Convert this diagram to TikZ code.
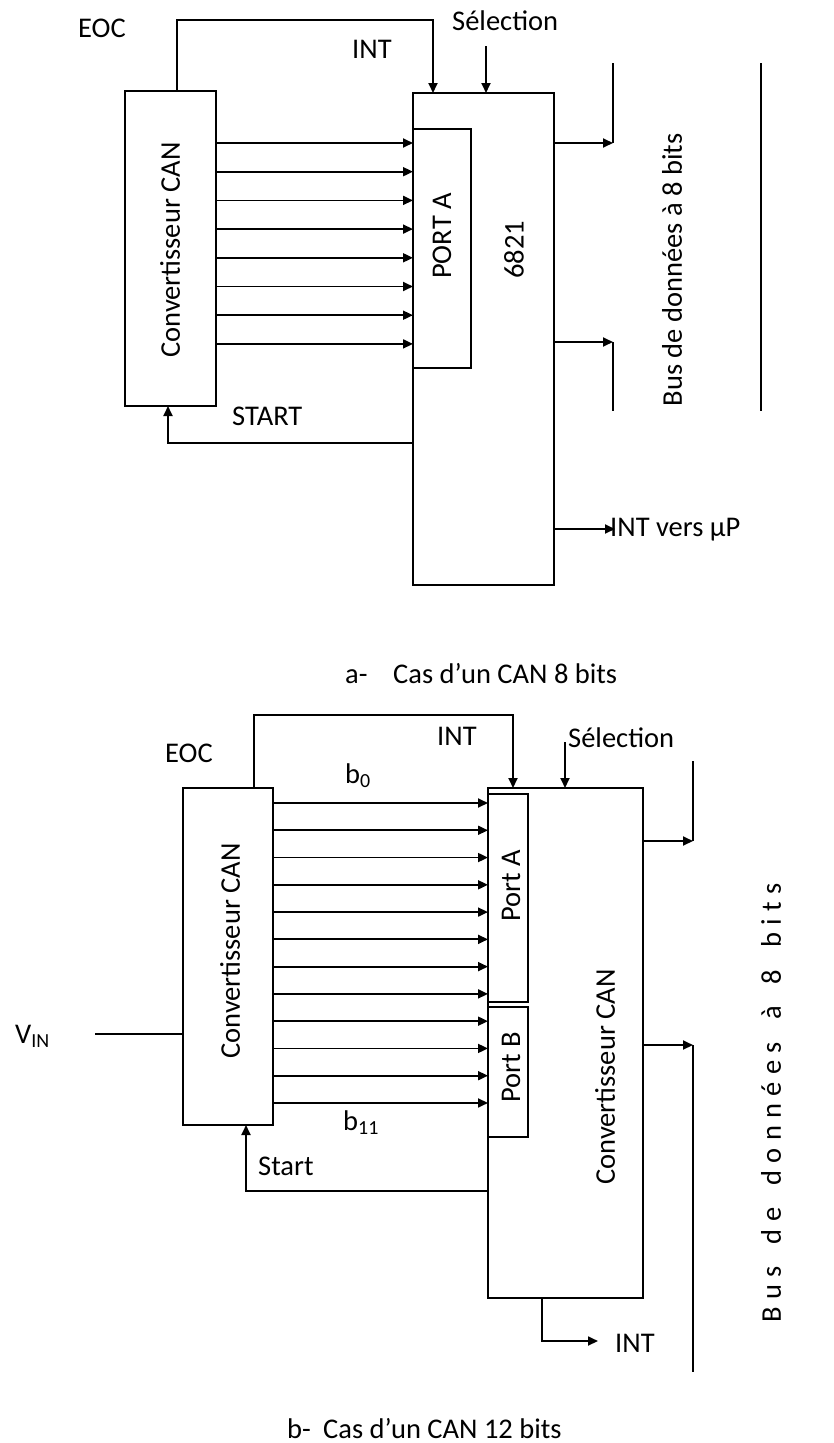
\documentclass[tikz,border=0pt]{standalone}
\usepackage{fontspec}
\setmainfont{Carlito}
\usetikzlibrary{arrows.meta,calc}
\begin{document}
\begin{tikzpicture}[x=1pt,y=-1pt,
  wire/.style={line width=1.8pt},
  arr/.style={wire,-{Triangle[length=10pt,width=9pt]}},
  box/.style={draw,line width=1.8pt,inner sep=0pt,outer sep=0pt},
  lbl/.style={inner sep=0pt,font=\fontsize{28.5}{34}\selectfont},
  vlbl/.style={lbl,rotate=90}]
\fill[white] (0,0) rectangle (833,1443);
\useasboundingbox (0,0) rectangle (833,1443);

% ---------------- part a ----------------
\node[box,minimum width=91pt,minimum height=315pt] (cana) at (170.5,248.5) {};
\node[box,minimum width=141pt,minimum height=492pt] (pia) at (483.5,339) {};
\node[box,minimum width=58pt,minimum height=239pt] (porta) at (442,248.5) {};

\node[vlbl] (tcana) at (170,250) {Convertisseur CAN};
\node[vlbl] (tporta) at (442,236) {PORT A};
\node[vlbl] (tpia) at (514,250) {6821};
\node[vlbl] (tbusa) at (672,270) {Bus de données à 8 bits};
\node[lbl,anchor=base west] (eoca) at (78,37) {EOC};
\node[lbl,anchor=base west] (inta) at (352,58) {INT};
\node[lbl,anchor=base west] (sela) at (452,30) {Sélection};
\node[lbl,anchor=base west] (starta) at (232,425) {START};
\node[lbl,anchor=base west] (intupa) at (610,536) {INT vers µP};
\node[lbl,anchor=base west] (capa1) at (345,683) {a-};
\node[lbl,anchor=base west] (capa2) at (393,683) {Cas d’un CAN 8 bits};

\coordinate (eocA) at (177,20);
\coordinate (intA) at (433,20);
\draw[arr] (cana.north -| eocA) -- (eocA) -- (intA) -- (intA |- pia.north);
\coordinate (selA) at (486,46);
\draw[arr] (selA) -- (selA |- pia.north);
\foreach \k in {0,...,7} {
  \pgfmathsetmacro\yy{143+28.7*\k}
  \coordinate (ra) at (0,\yy);
  \draw[arr] (cana.east |- ra) -- (porta.west |- ra);
}
\coordinate (busA1t) at (613,63);
\coordinate (busA1) at (613,143);
\draw[arr] (pia.east |- busA1) -- (busA1);
\draw[wire] (busA1) -- (busA1t);
\coordinate (busA2) at (613,342);
\coordinate (busA2b) at (613,411);
\draw[arr] (pia.east |- busA2) -- (busA2);
\draw[wire] (busA2) -- (busA2b);
\coordinate (busAr1) at (761,63);
\coordinate (busAr2) at (761,411);
\draw[wire] (busAr1) -- (busAr2);
\coordinate (stA) at (168,443);
\draw[arr] (pia.west |- stA) -- (stA) -- (stA |- cana.south);
\coordinate (intoA) at (615,529);
\draw[arr] (pia.east |- intoA) -- (intoA);

% ---------------- part b ----------------
\node[box,minimum width=90pt,minimum height=337pt] (canb) at (228,956.5) {};
\node[box,minimum width=155pt,minimum height=510pt] (piab) at (565.5,1043) {};
\node[box,minimum width=40pt,minimum height=208pt] (portab) at (508,898) {};
\node[box,minimum width=40pt,minimum height=130pt] (portbb) at (508,1072) {};

\node[vlbl] (tcanb) at (230,951) {Convertisseur CAN};
\node[vlbl] (tpiab) at (605,1077) {Convertisseur CAN};
\node[vlbl] (tportab) at (511,886) {Port A};
\node[vlbl] (tportbb) at (511,1067) {Port B};
\node[vlbl] (tbusb) at (771,1103) {\addfontfeature{LetterSpace=26}Bus\hspace{22pt}de\hspace{22pt}données\hspace{22pt}à\hspace{22pt}8\hspace{22pt}bits};
\node[lbl,anchor=base west] (eocb) at (165,762) {EOC};
\node[lbl,anchor=base west] (intb) at (437,745) {INT};
\node[lbl,anchor=base west] (selb) at (568,747) {Sélection};
\node[lbl,anchor=base west] (startb) at (258,1175) {Start};
\node[lbl,anchor=base west] (bzero) at (345,783) {b\textsubscript{0}};
\node[lbl,anchor=base west] (beleven) at (343,1130) {b\textsubscript{11}};
\node[lbl,anchor=base west] (vinl) at (15,1043) {V\textsubscript{IN}};
\node[lbl,anchor=base west] (intob) at (615,1352) {INT};
\node[lbl,anchor=base west] (capb1) at (287,1438) {b-};
\node[lbl,anchor=base west] (capb2) at (323,1438) {Cas d’un CAN 12 bits};

\coordinate (eocB) at (254,715);
\coordinate (intB) at (513,715);
\draw[arr] (canb.north -| eocB) -- (eocB) -- (intB) -- (intB |- piab.north);
\coordinate (selB) at (565,742);
\draw[arr] (selB) -- (selB |- piab.north);
\foreach \k in {0,...,11} {
  \pgfmathsetmacro\yy{803+27.27*\k}
  \coordinate (rb) at (0,\yy);
  \draw[arr] (canb.east |- rb) -- (piab.west |- rb);
}
\coordinate (busB1t) at (693,761);
\coordinate (busB1) at (693,841);
\draw[arr] (piab.east |- busB1) -- (busB1);
\draw[wire] (busB1) -- (busB1t);
\coordinate (busB2) at (693,1045);
\coordinate (busB2b) at (693,1372);
\draw[arr] (piab.east |- busB2) -- (busB2);
\draw[wire] (busB2) -- (busB2b);
\coordinate (stB) at (246,1191);
\draw[arr] (piab.west |- stB) -- (stB) -- (stB |- canb.south);
\coordinate (vin) at (95,1034);
\draw[wire] (vin) -- (canb.west |- vin);
\coordinate (intBo1) at (542,1341);
\coordinate (intBo2) at (598,1341);
\draw[arr] (intBo1 |- piab.south) -- (intBo1) -- (intBo2);
\end{tikzpicture}
\end{document}
